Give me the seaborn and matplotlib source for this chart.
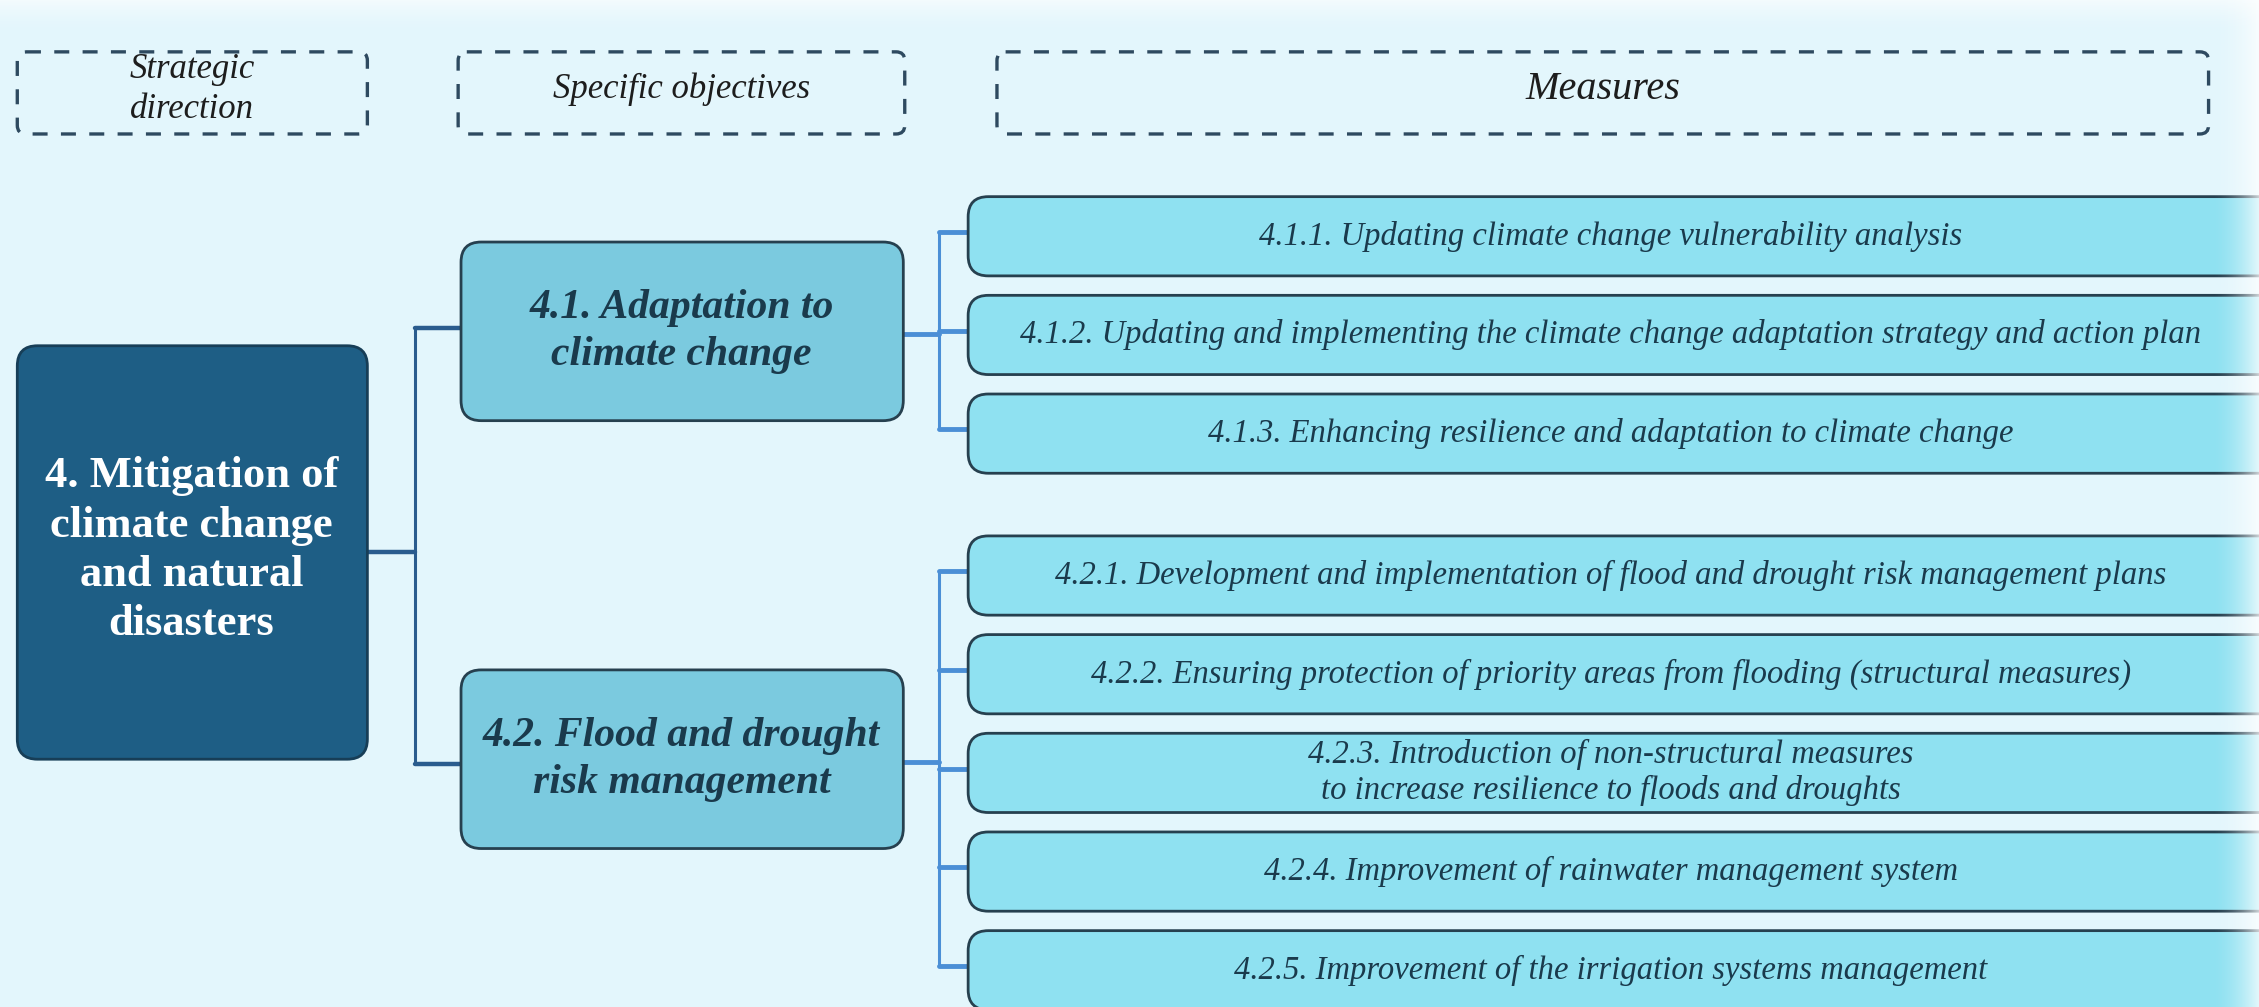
"""
Strategic direction 4 -> specific objectives -> measures (tree diagram).
"""
import numpy as np
import matplotlib.pyplot as plt
import seaborn as sns
from matplotlib.patches import FancyBboxPatch

# --- content -----------------------------------------------------------
headers = ["Strategic\ndirection", "Specific objectives", "Measures"]
direction = "4. Mitigation of\nclimate change\nand natural\ndisasters"
objectives = ["4.1. Adaptation to\nclimate change",
              "4.2. Flood and drought\nrisk management"]
measures = [
    "4.1.1. Updating climate change vulnerability analysis",
    "4.1.2. Updating and implementing the climate change adaptation strategy and action plan",
    "4.1.3. Enhancing resilience and adaptation to climate change",
    "4.2.1. Development and implementation of flood and drought risk management plans",
    "4.2.2. Ensuring protection of priority areas from flooding (structural measures)",
    "4.2.3. Introduction of non-structural measures\nto increase resilience to floods and droughts",
    "4.2.4. Improvement of rainwater management system",
    "4.2.5. Improvement of the irrigation systems management",
]
measure_group = [0, 0, 0, 1, 1, 1, 1, 1]

# --- colours -----------------------------------------------------------
BG = "#E3F6FC"
DARK = "#1E5E85"
MID = "#7BCADF"
LIGHT = "#8FE1F1"
EDGE = "#26404F"
TXT = "#1A3A4C"
LINE_MAIN = "#2A5C8E"
LINE_SUB = "#4B8FD6"
DASH = "#2E4A60"

sns.set_theme(style="white")
plt.rcParams['font.family'] = ['Liberation Serif', 'DejaVu Serif']

W, H = 1568, 699
fig = plt.figure(figsize=(22.59, 10.07), dpi=100)
fig.patch.set_facecolor(BG)
ax = fig.add_axes([0, 0, 1, 1])
ax.set_xlim(0, W)
ax.set_ylim(H, 0)
ax.set_facecolor(BG)
ax.axis('off')


def box(x0, y0, x1, y1, fc, ec, lw=2.0, r=14, ls='-', z=2):
    p = FancyBboxPatch((x0, y0), x1 - x0, y1 - y0,
                       boxstyle=f"round,pad=0,rounding_size={r}",
                       fc=fc, ec=ec, lw=lw, ls=ls, zorder=z)
    ax.add_patch(p)


# header boxes (dashed)
header_x = [(12, 255), (318, 628), (692, 1533)]
header_size = [25, 25, 29]
for (x0, x1), label, fs in zip(header_x, headers, header_size):
    box(x0, 36, x1, 93, 'none', DASH, lw=2.4, r=6, ls=(0, (4.5, 4)))
    ax.text((x0 + x1) / 2, 62, label, ha='center', va='center',
            fontsize=fs, style='italic', color='#1d1d1d', linespacing=1.3, zorder=5)

# main direction box
box(12, 240, 255, 527, DARK, '#173E57', lw=2.0, r=14)
ax.text(133, 382, direction, ha='center', va='center', fontsize=32,
        fontweight='bold', color='white', linespacing=1.3, zorder=5)

# measure rows
y0, step, gap, hh = 164, 68.5, 30, 27.5
mx0, mx1 = 672, 1585
ys = [y0 + step * i + gap * g for i, g in enumerate(measure_group)]
for y, label in zip(ys, measures):
    box(mx0, y - hh, mx1, y + hh, LIGHT, EDGE, lw=2.0, r=14)
    ax.text(1118, y, label, ha='center', va='center', fontsize=23.5,
            style='italic', color=TXT, linespacing=1.2, zorder=5)

# objective boxes
obj_y = [230, 527]
for y, label in zip(obj_y, objectives):
    box(320, y - 62, 627, y + 62, MID, EDGE, lw=2.0, r=14)
    ax.text(473, y, label, ha='center', va='center', fontsize=30,
            fontweight='bold', style='italic', color=TXT, linespacing=1.3, zorder=5)

# connectors: direction -> objectives
ax.plot([255, 288], [383, 383], color=LINE_MAIN, lw=3.2, zorder=1)
ax.plot([288, 288], [obj_y[0] - 2, obj_y[1] + 3], color=LINE_MAIN, lw=2.2, zorder=1)
for y in [obj_y[0] - 2, obj_y[1] + 3]:
    ax.plot([288, 322], [y, y], color=LINE_MAIN, lw=3.2, zorder=1)

# connectors: objectives -> measures
for g, oy in enumerate(obj_y):
    gy = [y for y, mg in zip(ys, measure_group) if mg == g]
    ax.plot([627, 652], [oy + 2, oy + 2], color=LINE_SUB, lw=3.5, zorder=1)
    ax.plot([652, 652], [gy[0] - 3, gy[-1] - 3], color=LINE_SUB, lw=2.2, zorder=1)
    for y in gy:
        ax.plot([652, 674], [y - 3, y - 3], color=LINE_SUB, lw=3.5, zorder=1)

# soft white fade at the right and top edges
fade_r = np.zeros((2, 64, 4))
fade_r[..., :3] = 1.0
fade_r[..., 3] = np.linspace(0, 0.85, 64) ** 1.8
ax.imshow(fade_r, extent=(1535, W, H, 0), aspect='auto', zorder=10)
fade_t = np.zeros((64, 2, 4))
fade_t[..., :3] = 1.0
fade_t[..., 3] = (np.linspace(0.7, 0, 64) ** 1.5)[:, None]
ax.imshow(fade_t, extent=(0, W, 22, 0), aspect='auto', zorder=10)
ax.set_xlim(0, W)
ax.set_ylim(H, 0)

fig.savefig("out.png", dpi=100, facecolor=BG)
